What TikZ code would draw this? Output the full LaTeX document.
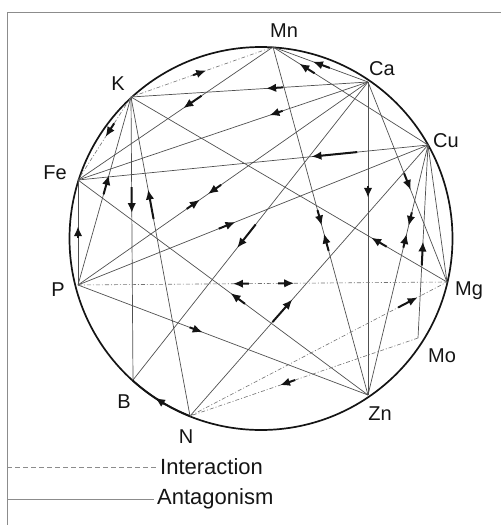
\documentclass[tikz,border=0pt]{standalone}
\usepackage{fontspec}
\setmainfont{Liberation Sans}
\usetikzlibrary{arrows.meta,calc,decorations.markings}
\definecolor{ink}{RGB}{20,20,20}
\definecolor{wire}{RGB}{80,80,80}
\definecolor{soft}{RGB}{140,140,140}
\tikzset{
  every picture/.style={x=1pt, y=-1pt, color=ink},
  link/.style={draw=wire, line width=0.7pt},
  inter/.style={draw=wire!80, line width=0.6pt, dash pattern=on 4pt off 2pt on 1pt off 2pt},
  rim/.style={draw=ink, line width=1.7pt},
  arrowbar/.style={draw=ink, solid, line width=2pt, -{Latex[length=10pt,width=8.5pt]}},
  fwd/.style 2 args={postaction={decorate, decoration={markings, mark=at position #1 with {\draw[arrowbar] (-#2pt,0) -- (0,0);}}}},
  bwd/.style 2 args={postaction={decorate, decoration={markings, mark=at position #1 with {\draw[arrowbar] (#2pt,0) -- (0,0);}}}},
  elt/.style={font=\fontsize{20}{24}\selectfont, anchor=base, inner sep=0pt},
  legendtxt/.style={font=\fontsize{22}{26}\selectfont, anchor=west, inner sep=3pt},
}

\begin{document}
\begin{tikzpicture}
  \useasboundingbox (0,0) rectangle (501,525);
  % frame and rim
  \draw[soft, line width=0.8pt] (7,525) -- (7,12) -- (501,12);
  \coordinate (O) at (261,238.5);
  \draw[rim] (O) circle[radius=191.5pt];
  % elements round the rim, then their labels
  \foreach \n/\x/\y in {Mn/273/47, Ca/368/82, Cu/428/145, Mg/447/282, Mo/418/338, Zn/368/395, N/190/416, B/133/380, P/78/285, Fe/78/180, K/131/97}
    \coordinate (\n) at (\x,\y);
  \foreach \n/\x/\y in {Mn/284/37, Ca/382/75, Cu/446/147, Mg/469/295, Mo/442/362, Zn/380/420, N/186/443, B/124/408, P/58/296, Fe/55/179, K/118/90}
    \node[elt] (\n-l) at (\x,\y) {\n};
  % antagonism: the arrow points at the second element
  \foreach \a/\b/\t/\l in {Ca/K/0.43/17, Mn/Fe/0.46/22, Ca/Fe/0.34/14, Ca/Mn/0.58/18, Cu/Mn/0.83/18,
      K/B/0.41/26, N/K/0.71/30, P/K/0.585/20, Mg/K/0.24/18, P/Fe/0.56/12, P/Cu/0.45/18,
      P/Zn/0.43/14, Cu/Fe/0.333/46, Zn/Fe/0.474/18, Ca/Zn/0.37/12, Ca/Mg/0.54/18,
      Ca/B/0.557/30, N/Cu/0.43/30, Mo/Cu/0.50/24}
    \draw[link, fwd={\t}{\l}] (\a) -- (\b);
  \draw[link, fwd={0.513}{16}, bwd={0.536}{18}] (Mn) -- (Zn);
  \draw[link, fwd={0.324}{14}, bwd={0.356}{14}] (Cu) -- (Zn);
  \draw[link, fwd={0.42}{16}, bwd={0.448}{16}] (P) -- (Ca);
  \draw[link] (Cu) -- (Mg);
  \draw[rim, fwd={0.58}{12}] (N) arc[start angle=248.3, end angle=227.9, radius=191.5pt];
  % interaction
  \draw[inter, fwd={0.53}{14}] (K) -- (Mn);
  \draw[inter, fwd={0.48}{16}] (K) -- (Fe);
  \draw[inter, fwd={0.586}{16}, bwd={0.42}{16}] (P) -- (Mg);
  \draw[inter, fwd={0.886}{22}] (N) -- (Mg);
  \draw[inter, fwd={0.605}{16}] (Mo) -- (N);
  % legend
  \coordinate (d0) at (7,467);
  \coordinate (s0) at (7,499);
  \node[legendtxt] (int) at (157,467) {Interaction};
  \node[legendtxt] (ant) at (154,499) {Antagonism};
  \draw[soft, line width=0.8pt, dash pattern=on 5pt off 3pt] (d0) -- (int.west);
  \draw[soft, line width=0.8pt] (s0) -- (ant.west);
\end{tikzpicture}
\end{document}
